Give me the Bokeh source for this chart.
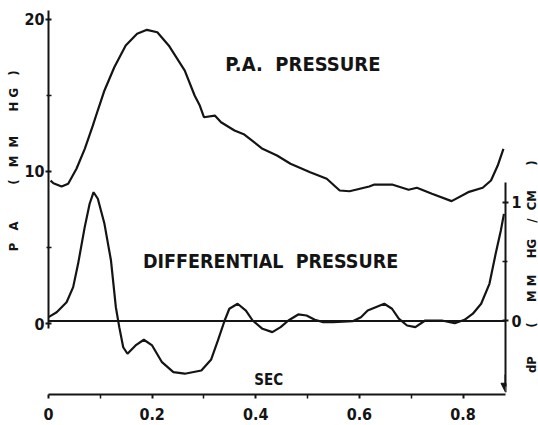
from math import pi
from bokeh.plotting import figure
from bokeh.layouts import row
from bokeh.models import Range1d, LinearAxis, FixedTicker, Span, Label, Arrow, NormalHead
from bokeh.embed import file_html
from bokeh.resources import INLINE

# ---- data ----
pa_t = [0.004, 0.0095, 0.0253, 0.038, 0.054, 0.070, 0.0857, 0.095, 0.108, 0.127, 0.149,
        0.171, 0.190, 0.210, 0.232, 0.263, 0.282, 0.292, 0.300, 0.321, 0.333, 0.359,
        0.378, 0.413, 0.441, 0.467, 0.505, 0.537, 0.562, 0.581, 0.619, 0.629, 0.663,
        0.695, 0.711, 0.740, 0.778, 0.810, 0.838, 0.854, 0.867, 0.878]
pa_mmhg = [9.4, 9.23, 9.01, 9.19, 10.18, 11.49, 13.03, 14.01, 15.33, 16.86, 18.29,
           19.06, 19.32, 19.16, 18.29, 16.64, 15.0, 14.34, 13.57, 13.68, 13.24, 12.70,
           12.43, 11.49, 11.05, 10.51, 9.95, 9.52, 8.75, 8.70, 9.01, 9.14, 9.14,
           8.80, 8.93, 8.53, 8.05, 8.64, 8.93, 9.41, 10.39, 11.49]

dp_t = [0.0, 0.0158, 0.0349, 0.0476, 0.0571, 0.0699, 0.0794, 0.0870, 0.0952, 0.108,
        0.1206, 0.130, 0.1366, 0.1442, 0.1524, 0.168, 0.184, 0.200, 0.219, 0.241,
        0.263, 0.295, 0.314, 0.327, 0.340, 0.349, 0.365, 0.381, 0.394, 0.413, 0.432,
        0.448, 0.463, 0.482, 0.498, 0.514, 0.530, 0.549, 0.587, 0.603, 0.616, 0.648,
        0.663, 0.676, 0.692, 0.708, 0.727, 0.759, 0.784, 0.803, 0.819, 0.835, 0.851,
        0.863, 0.873, 0.879]
dp_val = [0.032, 0.074, 0.158, 0.285, 0.481, 0.790, 0.987, 1.084, 1.029, 0.818,
          0.509, 0.116, -0.052, -0.221, -0.276, -0.206, -0.158, -0.206, -0.347, -0.431,
          -0.444, -0.417, -0.324, -0.164, 0.004, 0.103, 0.145, 0.088, 0.004, -0.066, -0.094,
          -0.052, 0.004, 0.055, 0.046, 0.010, -0.010, -0.010, -0.002, 0.032, 0.088, 0.145,
          0.103, 0.019, -0.038, -0.052, 0.004, 0.004, -0.019, 0.010, 0.061, 0.145, 0.313,
          0.566, 0.762, 0.902]

x_ticks = [0, 0.2, 0.4, 0.6, 0.8]
x_minor = [0.1, 0.3, 0.5, 0.7]
x_labels = ["0", "0.2", "0.4", "0.6", "0.8"]
pa_ticks = [0, 10, 20]
pa_minor = [5, 15]
dp_ticks = [0, 1]
dp_minor = [0.5]

title_pa = "P.A.\u00a0\u00a0PRESSURE"
title_dp = "DIFFERENTIAL\u00a0\u00a0PRESSURE"
x_title = "SEC"
nb = "\u00a0"
left_title = ("P" + nb * 3 + "A" + nb * 9 + "(" + nb * 3 + "M" + nb * 2 + "M" + nb * 6
              + "H" + nb + "G" + nb * 3 + ")")
right_title = ("dP" + nb * 7 + "(" + nb * 5 + "M" + nb + "M" + nb * 4 + "HG" + nb * 4
               + "/" + nb * 2 + "CM" + nb * 6 + ")")

FONT = "DejaVu Sans Condensed"
INK = "#141414"
H = 425

p = figure(width=503, height=H, output_backend="svg", toolbar_location=None,
           x_range=Range1d(0, 0.882), y_range=Range1d(-4.67, 20.59),
           x_axis_location=None, y_axis_location=None,
           min_border_left=24, min_border_right=16, min_border_top=10, min_border_bottom=31)
p.extra_y_ranges = {"dp": Range1d(-0.619, 2.614)}
p.outline_line_color = None
p.background_fill_color = "white"
p.border_fill_color = "white"
p.xgrid.visible = False
p.ygrid.visible = False


def style(ax):
    ax.axis_line_width = 2
    ax.axis_line_color = INK
    ax.major_tick_line_color = INK
    ax.minor_tick_line_color = INK
    ax.major_tick_line_width = 2
    ax.minor_tick_line_width = 1.5
    ax.major_label_text_font = FONT
    ax.major_label_text_font_style = "bold"
    ax.major_label_text_font_size = "16px"
    ax.major_label_text_color = INK


xaxis = LinearAxis(ticker=FixedTicker(ticks=x_ticks, minor_ticks=x_minor),
                   major_label_overrides=dict(zip(x_ticks, x_labels)))
style(xaxis)
xaxis.major_tick_in = 0
xaxis.major_tick_out = 4
xaxis.minor_tick_in = 0
xaxis.minor_tick_out = 4
xaxis.major_label_standoff = 9
p.add_layout(xaxis, "below")

laxis = LinearAxis(ticker=FixedTicker(ticks=pa_ticks, minor_ticks=pa_minor), bounds=(-0.3, 20.59))
style(laxis)
laxis.major_tick_in = 3
laxis.major_tick_out = 3
laxis.minor_tick_in = 3
laxis.minor_tick_out = 2
laxis.major_label_standoff = 1
p.add_layout(laxis, "left")

raxis = LinearAxis(y_range_name="dp", ticker=FixedTicker(ticks=dp_ticks, minor_ticks=dp_minor),
                   bounds=(-0.55, 1.17))
style(raxis)
raxis.major_tick_in = 3
raxis.major_tick_out = 3
raxis.minor_tick_in = 3
raxis.minor_tick_out = 2
raxis.major_label_standoff = 3
p.add_layout(raxis, "right")

p.add_layout(Arrow(end=NormalHead(size=9, fill_color=INK, line_color=INK), line_color=INK,
                   line_width=2, x_start=0.882, x_end=0.882, y_start=-0.45, y_end=-0.6,
                   y_range_name="dp"))

p.add_layout(Span(location=0, dimension="width", y_range_name="dp", line_color=INK, line_width=2))

p.line(pa_t, pa_mmhg, line_color=INK, line_width=2.2)
p.line(dp_t, dp_val, line_color=INK, line_width=2.2, y_range_name="dp")

common = dict(text_font=FONT, text_font_style="bold", text_color=INK,
              text_align="center", text_baseline="middle")
p.add_layout(Label(x=0.491, y=17.1, text=title_pa, text_font_size="20px", **common))
p.add_layout(Label(x=0.4286, y=0.50, text=title_dp, text_font_size="19.5px", y_range_name="dp", **common))
p.add_layout(Label(x=0.425, y=-0.50, text=x_title, text_font_size="15px", y_range_name="dp", **common))


def strip(width, y_range):
    s = figure(width=width, height=H, output_backend="svg", toolbar_location=None,
               x_range=Range1d(0, 1), y_range=y_range,
               x_axis_location=None, y_axis_location=None,
               min_border_left=0, min_border_right=0, min_border_top=0, min_border_bottom=0)
    s.outline_line_color = None
    s.background_fill_color = "white"
    s.border_fill_color = "white"
    s.xgrid.visible = False
    s.ygrid.visible = False
    return s


# left strip: PA axis title (same PA scale as the plot, spread over the full height)
ls = strip(21, Range1d(-6.71, 21.25))
ls.add_layout(Label(x=0.62, y=10.3, text=left_title, angle=pi / 2, text_font_size="13px", **common))

# right strip: dP axis title
rs = strip(14, Range1d(-0.880, 2.698))
rs.add_layout(Label(x=0.5, y=0.311, text=right_title, angle=pi / 2, text_font_size="13px", **common))

layout = row(ls, p, rs)
open("out.html", "w").write(file_html(layout, INLINE))
